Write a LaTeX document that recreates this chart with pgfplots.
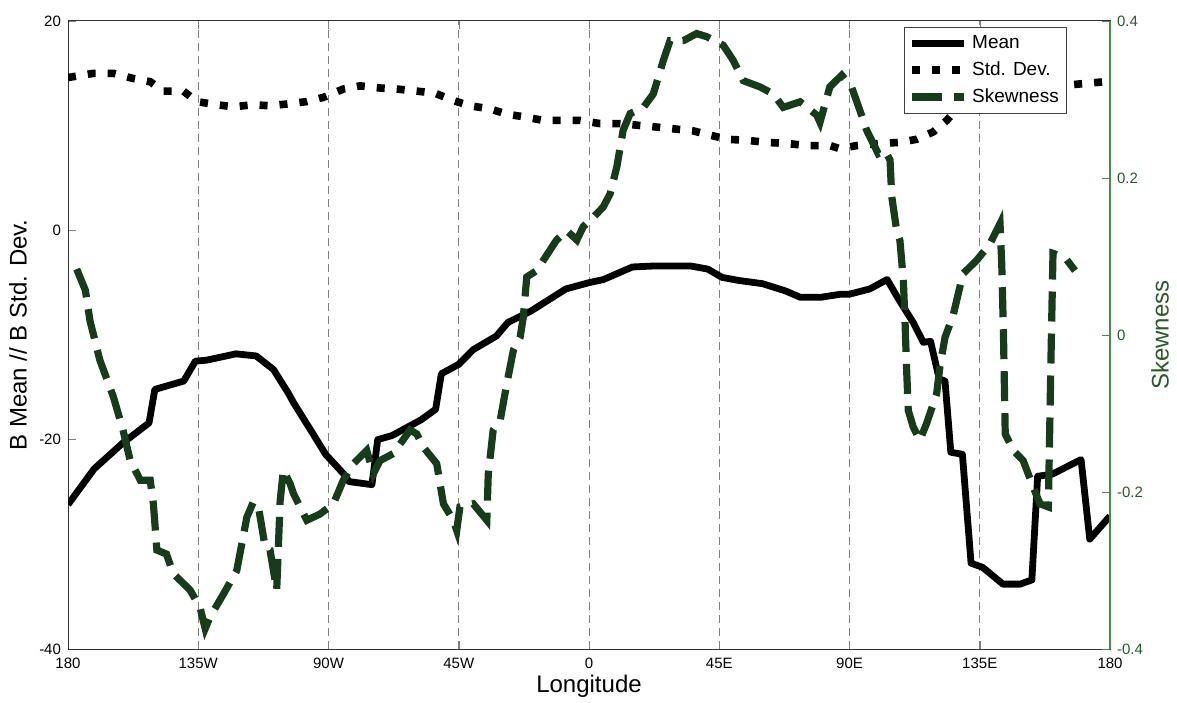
\documentclass[border=0pt]{standalone}
\usepackage{fontspec}
\setmainfont{Liberation Sans}
\usepackage{pgfplots}
\pgfplotsset{compat=1.18}
\definecolor{skewgreen}{RGB}{22,60,26}
\definecolor{axgreen}{RGB}{70,140,70}
\definecolor{labgreen}{RGB}{40,90,40}
\tikzset{
  meanstyle/.style={black, line width=3.4pt, line join=round},
  stdstyle/.style={black, line width=3.8pt, dash pattern=on 4pt off 6pt},
  skewstyle/.style={skewgreen, line width=3.6pt, dash pattern=on 15pt off 6pt},
}
\begin{document}
\begin{tikzpicture}[x=1pt,y=1pt]
\useasboundingbox (0,0) rectangle (588.5,351);
\begin{axis}[
  at={(34pt,26.5pt)}, anchor=south west,
  scale only axis, width=521pt, height=314pt,
  xmin=-180, xmax=180, ymin=-40, ymax=20,
  xtick={-180,-135,-90,-45,0,45,90,135,180},
  xticklabels={180,135W,90W,45W,0,45E,90E,135E,180},
  ytick={-40,-20,0,20},
  ytick pos=left,
  tick align=inside,
  major tick length=4pt,
  xmajorgrids,
  major grid style={gray, dash pattern=on 4pt off 2.5pt, line width=0.4pt},
  tick label style={font=\fontsize{7.5}{9}\selectfont},
  xticklabel style={yshift=-1pt},
  /pgf/number format/assume math mode=true,
  xlabel={Longitude}, ylabel={B Mean // B Std. Dev.},
  label style={font=\fontsize{12}{14}\selectfont},
  xlabel style={at={(axis description cs:0.5,-0.059)}, anchor=center},
  ylabel style={at={(axis description cs:-0.048,0.5)}, anchor=center},
  axis line style={black!80, line width=0.5pt},
]
\addplot[meanstyle] coordinates {
(-180,-26.2) (-171,-22.8) (-161,-20.3) (-152,-18.4) (-150,-15.2) (-140,-14.4) (-136,-12.5) (-132,-12.4) (-122,-11.8) (-115,-12.0) (-109,-13.3) (-104,-15.5) (-102,-16.5) (-95,-19.6) (-91,-21.4) (-84,-23.5) (-83,-24.0) (-75,-24.3) (-73,-20.0) (-68,-19.6) (-58,-18.1) (-53,-17.1) (-51,-13.7) (-45,-12.8) (-40,-11.4) (-32,-10.1) (-28,-8.8) (-20,-7.7) (-8,-5.6) (0,-5.0) (5,-4.7) (15,-3.5) (23,-3.4) (35,-3.4) (41,-3.7) (46,-4.5) (52,-4.8) (60,-5.1) (68,-5.8) (73,-6.4) (80,-6.4) (87,-6.1) (90,-6.1) (97,-5.6) (103,-4.7) (107,-6.6) (112,-8.8) (115.5,-10.7) (118,-10.6) (121,-14.2) (123,-14.4) (125,-21.2) (129,-21.4) (132,-31.8) (136,-32.2) (143,-33.8) (149,-33.8) (153,-33.4) (155,-23.5) (160,-23.3) (170,-21.9) (173,-29.5) (180,-27.3)
};
\addplot[stdstyle] coordinates {
(-180,14.6) (-171.2,15.0) (-164.3,15.0) (-157.4,14.5) (-151.6,14.2) (-147,13.3) (-140.1,13.3) (-135.5,12.3) (-128.6,12.0) (-122.9,11.8) (-116,12.0) (-110.2,11.9) (-103.3,12.1) (-97.5,12.3) (-91.8,12.7) (-84.9,13.5) (-79.1,13.8) (-72.2,13.6) (-66.4,13.5) (-59.5,13.3) (-53.2,13.1) (-46.9,12.4) (-41.1,11.9) (-34.2,11.6) (-28.4,11.1) (-21.5,10.8) (-15.8,10.5) (-8.9,10.5) (-3.1,10.5) (3.8,10.2) (10.7,10.2) (22.2,9.9) (29.1,9.7) (36,9.5) (41.8,9.1) (47.6,8.7) (54.5,8.6) (61.4,8.4) (68.3,8.3) (75.2,8.1) (83.2,8.1) (86.7,7.8) (92.5,8.1) (100.5,8.3) (107.4,8.4) (113.2,8.7) (118.9,9.4) (123.6,10.5) (127,11.6) (132,12.5) (140,13.2) (150,13.6) (166.2,13.9) (178.2,14.2) (180,14.2)
};
\end{axis}
\begin{axis}[
  at={(34pt,26.5pt)}, anchor=south west,
  scale only axis, width=521pt, height=314pt,
  xmin=-180, xmax=180, ymin=-0.4, ymax=0.4,
  axis y line*=right, axis x line=none,
  ytick={-0.4,-0.2,0,0.2,0.4},
  tick align=inside,
  major tick length=4pt,
  y axis line style={-, draw=axgreen, line width=0.6pt},
  ytick style={draw=axgreen},
  yticklabel style={text=labgreen, font=\fontsize{7.5}{9}\selectfont,
    /pgf/number format/fixed, /pgf/number format/precision=1},
  /pgf/number format/assume math mode=true,
  ylabel={Skewness},
  ylabel style={font=\fontsize{12}{14}\selectfont, text=labgreen,
    at={(axis description cs:1.048,0.5)}, anchor=center},
  legend style={at={(0.959,0.99)}, anchor=north east, draw=black!75,
    line width=0.5pt, font=\fontsize{9.5}{11}\selectfont,
    row sep=1pt, inner sep=2pt},
  legend cell align=left,
  legend image code/.code={\draw[#1] (0pt,0pt) -- (26pt,0pt);},
]
\addlegendimage{meanstyle}
\addlegendentry{Mean}
\addlegendimage{stdstyle}
\addlegendentry{Std. Dev.}
\addplot[skewstyle] coordinates {
(-177,0.084) (-174,0.057) (-172.4,0.018) (-169,-0.032) (-164.3,-0.079) (-161,-0.121) (-158.5,-0.160) (-155,-0.185) (-151.6,-0.185) (-150.5,-0.215) (-149.3,-0.274) (-146,-0.279) (-143.6,-0.304) (-137.8,-0.325) (-134.4,-0.347) (-132.6,-0.374) (-130.9,-0.359) (-126.3,-0.330) (-121.7,-0.300) (-118.2,-0.232) (-116,-0.213) (-114.2,-0.219) (-111.9,-0.270) (-110.2,-0.274) (-107.9,-0.325) (-106.7,-0.211) (-105.6,-0.172) (-103.3,-0.189) (-102.1,-0.202) (-97.5,-0.236) (-92.9,-0.228) (-88.3,-0.215) (-84.9,-0.185) (-81.4,-0.164) (-76.8,-0.147) (-74.5,-0.177) (-72.2,-0.160) (-67.6,-0.151) (-61.8,-0.121) (-59.5,-0.126) (-57.2,-0.143) (-52.6,-0.164) (-50.3,-0.215) (-46.9,-0.236) (-45.7,-0.249) (-44.6,-0.219) (-40,-0.215) (-35.3,-0.236) (-34.8,-0.177) (-33.1,-0.121) (-30.7,-0.109) (-28.4,-0.062) (-26.1,-0.019) (-23.8,-0.003) (-22.7,0.023) (-21.5,0.074) (-18.1,0.082) (-13.5,0.108) (-11.2,0.121) (-7.7,0.133) (-4.2,0.121) (-2,0.138) (1.5,0.150) (4.9,0.163) (7.3,0.180) (9.6,0.214) (11.8,0.261) (14.2,0.282) (18.8,0.290) (22.2,0.307) (25.7,0.350) (28,0.375) (32.6,0.375) (37.2,0.384) (40.7,0.380) (46.4,0.369) (49.8,0.350) (53.3,0.324) (59.1,0.316) (63.7,0.307) (67.1,0.290) (72.9,0.297) (78.7,0.280) (79.8,0.271) (83.2,0.316) (87.3,0.331) (90.7,0.316) (93.6,0.286) (95.9,0.261) (98.2,0.244) (99.9,0.231) (102.2,0.235) (104,0.223) (104.6,0.176) (106.3,0.133) (107.4,0.121) (108.6,0.070) (109.2,0.015) (109.7,-0.041) (110.3,-0.096) (112,-0.117) (114.3,-0.134) (116.6,-0.113) (120.1,-0.075) (121.2,-0.041) (123,-0.003) (125.8,0.025) (129.2,0.078) (133.9,0.095) (138.5,0.116) (142,0.142) (142.6,0.09) (143.2,0.0) (143.8,-0.126) (146.6,-0.147) (150,-0.160) (153.5,-0.194) (155.8,-0.215) (158.7,-0.219) (159.5,-0.05) (160.3,0.104) (164.4,0.099) (167.9,0.082)
};
\addlegendentry{Skewness}
\end{axis}
\end{tikzpicture}
\end{document}
